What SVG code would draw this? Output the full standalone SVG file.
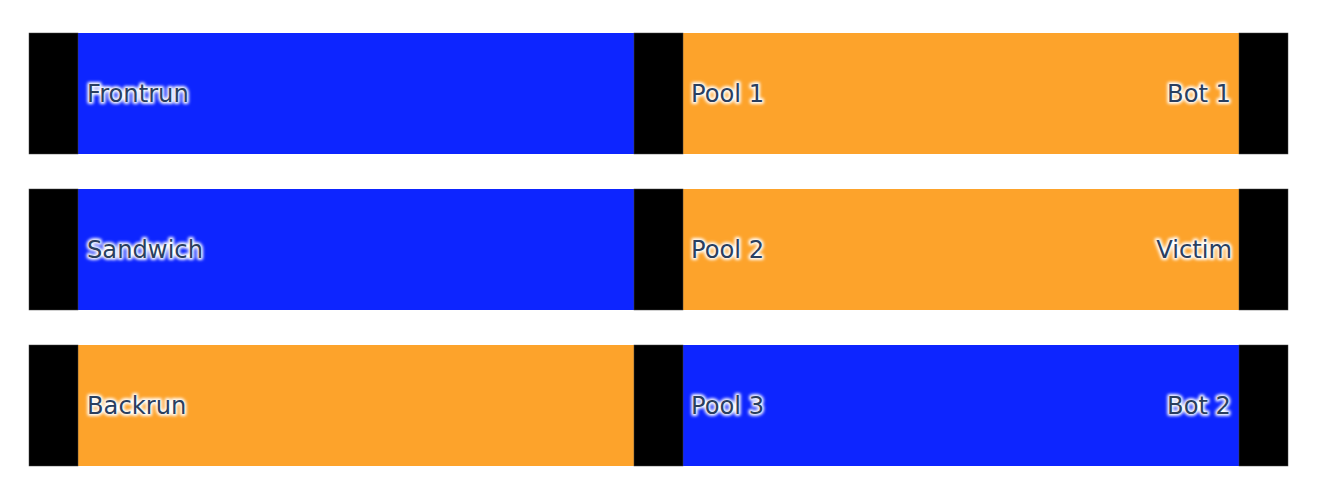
<svg xmlns="http://www.w3.org/2000/svg" width="1320" height="502" viewBox="0 0 1320 502">
<defs>
<style>
.blue{fill:#0d25ff}
.orange{fill:#fda32b}
.node rect{fill:#000;stroke:#444;stroke-width:0.5}
text{font-family:"DejaVu Sans",Verdana,sans-serif;font-size:24.2px;fill:#2a3f5f}
.glow{fill:#fff;stroke:#fff;stroke-width:4;stroke-linejoin:round;filter:url(#blur)}
</style>
<filter id="blur" x="-10%" y="-30%" width="120%" height="160%"><feGaussianBlur stdDeviation="1.8"/></filter>
</defs>
<rect width="1320" height="502" fill="#fff"/>
<g id="links">
<path class="blue" d="M78 33H634V154H78Z"/>
<path class="blue" d="M78 189H634V310H78Z"/>
<path class="orange" d="M78 345H634V466H78Z"/>
<path class="orange" d="M683 33H1239V154H683Z"/>
<path class="orange" d="M683 189H1239V310H683Z"/>
<path class="blue" d="M683 345H1239V466H683Z"/>
</g>
<g id="frontrun" class="node"><rect x="29" y="33" width="49" height="121"/><text class="glow" x="87" y="102">Frontrun</text><text x="87" y="102">Frontrun</text></g>
<g id="sandwich" class="node"><rect x="29" y="189" width="49" height="121"/><text class="glow" x="87" y="258">Sandwich</text><text x="87" y="258">Sandwich</text></g>
<g id="backrun" class="node"><rect x="29" y="345" width="49" height="121"/><text class="glow" x="87" y="414">Backrun</text><text x="87" y="414">Backrun</text></g>
<g id="pool1" class="node"><rect x="634" y="33" width="49" height="121"/><text class="glow" x="691" y="102">Pool 1</text><text x="691" y="102">Pool 1</text></g>
<g id="pool2" class="node"><rect x="634" y="189" width="49" height="121"/><text class="glow" x="691" y="258">Pool 2</text><text x="691" y="258">Pool 2</text></g>
<g id="pool3" class="node"><rect x="634" y="345" width="49" height="121"/><text class="glow" x="691" y="414">Pool 3</text><text x="691" y="414">Pool 3</text></g>
<g id="bot1" class="node"><rect x="1239" y="33" width="49" height="121"/><text class="glow" x="1231" y="102" text-anchor="end">Bot 1</text><text x="1231" y="102" text-anchor="end">Bot 1</text></g>
<g id="victim" class="node"><rect x="1239" y="189" width="49" height="121"/><text class="glow" x="1232" y="258" text-anchor="end">Victim</text><text x="1232" y="258" text-anchor="end">Victim</text></g>
<g id="bot2" class="node"><rect x="1239" y="345" width="49" height="121"/><text class="glow" x="1231" y="414" text-anchor="end">Bot 2</text><text x="1231" y="414" text-anchor="end">Bot 2</text></g>
</svg>
